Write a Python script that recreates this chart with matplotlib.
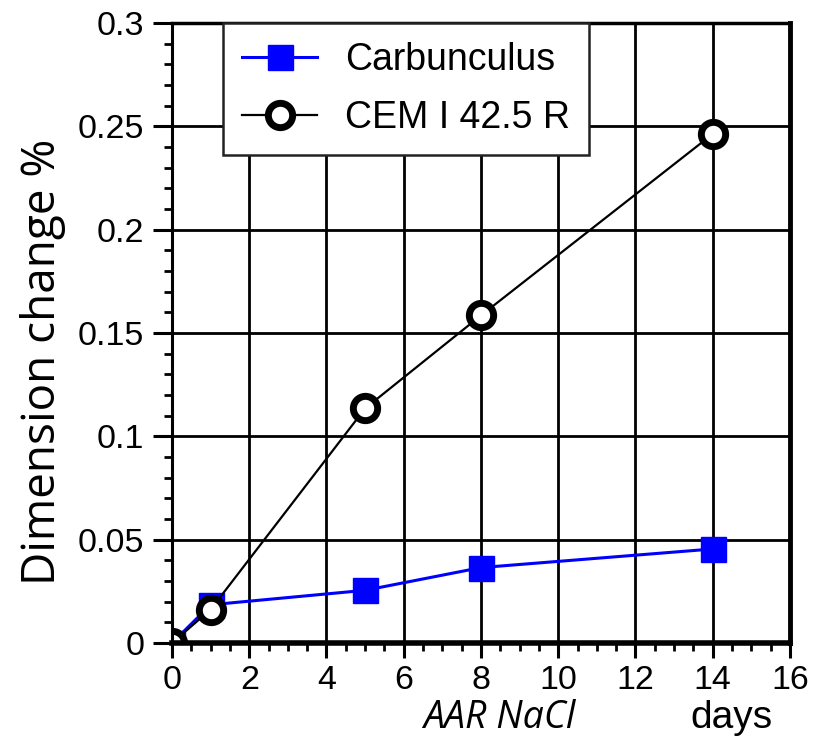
import numpy as np
import matplotlib
matplotlib.use("Agg")
import matplotlib.pyplot as plt
from matplotlib.ticker import MultipleLocator, FuncFormatter

# data
days = [0, 1, 5, 8, 14]
carbunculus = [0.0, 0.0185, 0.0255, 0.0365, 0.0455]
cem = [0.0, 0.0162, 0.1135, 0.1585, 0.2463]

x_ticks = [0, 2, 4, 6, 8, 10, 12, 14, 16]
y_ticks = [0, 0.05, 0.1, 0.15, 0.2, 0.25, 0.3]

plt.rcParams["font.family"] = ["Liberation Sans", "DejaVu Sans"]

fig = plt.figure(figsize=(8.25, 7.49), dpi=100)
ax = fig.add_axes([0.2085, 0.1415, 0.749, 0.8278])

ax.plot(days, carbunculus, color="#0000ff", lw=2.2, marker="s", ms=18,
        mfc="#0000ff", mec="#0000ff", label="Carbunculus", zorder=3)
ax.plot(days, cem, color="black", lw=1.6, marker="o", ms=17.5, mfc="white",
        mec="black", mew=5, label="CEM I 42.5 R", zorder=4)

ax.set_xlim(0, 16)
ax.set_ylim(0, 0.3)
ax.set_xticks(x_ticks)
ax.set_yticks(y_ticks)
ax.xaxis.set_minor_locator(MultipleLocator(0.5))
ax.yaxis.set_minor_locator(MultipleLocator(0.01))
ax.yaxis.set_major_formatter(FuncFormatter(lambda v, p: "{:g}".format(round(v, 3))))
ax.grid(True, which="major", color="black", lw=2)
ax.set_axisbelow(True)

ax.tick_params(which="major", direction="out", length=11, width=2.2,
               labelsize=24.5, pad=5)
ax.tick_params(which="minor", direction="out", length=6, width=2)
ax.tick_params(axis="y", which="major", length=14, pad=6)

ax.spines["left"].set_linewidth(2.2)
ax.spines["top"].set_linewidth(2.5)
ax.spines["right"].set_linewidth(3.5)
ax.spines["bottom"].set_linewidth(4)
for sp in ax.spines.values():
    sp.set_zorder(5)

ax.set_ylabel("Dimension change %", fontsize=33, family=["Open Sans", "DejaVu Sans"])
ax.yaxis.set_label_coords(-0.172, 0.453)

fig.text(0.605, 0.016, "AAR NaCl", fontsize=27, style="italic",
         family=["Open Sans", "DejaVu Sans"], ha="center", va="bottom")
fig.text(0.887, 0.018, "days", fontsize=28, ha="center", va="bottom")

leg = ax.legend(loc="upper left", bbox_to_anchor=(0.083, 1.0), borderaxespad=0,
                fontsize=27, fancybox=False, framealpha=1, edgecolor="#222222",
                handlelength=2.0, handletextpad=0.75, borderpad=0.5,
                labelspacing=0.6)
leg.get_frame().set_linewidth(1.8)
leg.set_zorder(6)

plt.savefig("out.png", dpi=100)
